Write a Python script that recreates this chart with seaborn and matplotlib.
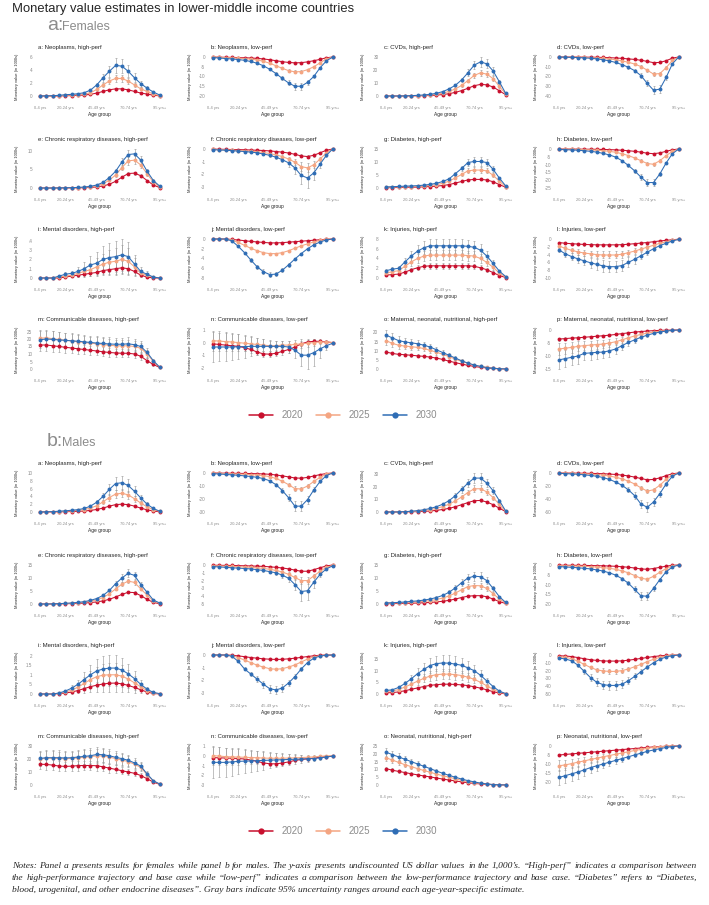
import matplotlib
matplotlib.use("Agg")
import matplotlib.pyplot as plt
from matplotlib.lines import Line2D
import pandas as pd
import seaborn as sns

# age groups 0-4 ... 95+ (20 groups), labelled every 5th
AGE_IDX = list(range(20))
AGE_TICKS = [0, 4, 9, 14, 19]
AGE_LABELS = ["0-4 yrs", "20-24 yrs", "45-49 yrs", "70-74 yrs", "95 yrs+"]
YEARS = ["2020", "2025", "2030"]
COLORS = ["#C8102E", "#F4A582", "#2F6DB5"]

F_TITLES = ["a: Neoplasms, high-perf", "b: Neoplasms, low-perf", "c: CVDs, high-perf", "d: CVDs, low-perf",
            "e: Chronic respiratory diseases, high-perf", "f: Chronic respiratory diseases, low-perf",
            "g: Diabetes, high-perf", "h: Diabetes, low-perf",
            "i: Mental disorders, high-perf", "j: Mental disorders, low-perf",
            "k: Injuries, high-perf", "l: Injuries, low-perf",
            "m: Communicable diseases, high-perf", "n: Communicable diseases, low-perf",
            "o: Maternal, neonatal, nutritional, high-perf", "p: Maternal, neonatal, nutritional, low-perf"]
M_TITLES = F_TITLES[:14] + ["o: Neonatal, nutritional, high-perf", "p: Neonatal, nutritional, low-perf"]

F_YTICKS = [[0, 2, 4, 6], [-20, -15, -10, -5, 0], [0, 10, 20, 30], [-40, -30, -20, -10, 0],
            [0, 5, 10], [-3, -2, -1, 0], [0, 5, 10, 15], [-25, -20, -15, -10, -5, 0],
            [0, .1, .2, .3, .4], [-8, -6, -4, -2, 0], [0, 2, 4, 6, 8], [-10, -8, -6, -4, -2, 0],
            [0, 5, 10, 15, 20, 25], [-2, -1, 0, 1], [0, 5, 10, 15, 20], [-15, -10, -5, 0]]
M_YTICKS = [[0, 2, 4, 6, 8, 10], [-30, -20, -10, 0], [0, 10, 20, 30], [-60, -40, -20, 0],
            [0, 5, 10, 15], [-5, -4, -3, -2, -1, 0], [0, 5, 10, 15], [-20, -15, -10, -5, 0],
            [0, .5, 1, 1.5, 2], [-3, -2, -1, 0], [0, 5, 10, 15], [-50, -40, -30, -20, -10, 0],
            [0, 10, 20, 30], [-3, -2, -1, 0, 1], [0, 5, 10, 15, 20, 25], [-20, -15, -10, -5, 0]]

# ---- females ----
F_2020 = [
    [0, 0, 0, 0, 0.05, 0.05, 0.1, 0.15, 0.25, 0.45, 0.7, 0.95, 1.1, 1.1, 0.95, 0.7, 0.45, 0.3, 0.12, 0.02],
    [-0.05, -0.1, -0.15, -0.2, -0.3, -0.4, -0.5, -0.7, -1, -1.4, -1.9, -2.4, -2.8, -3, -2.9, -2.5, -1.9, -1.2, -0.4, 0],
    [0, 0, 0, 0, 0.1, 0.15, 0.25, 0.4, 0.7, 1.1, 1.8, 2.8, 4.2, 6, 8, 9, 8.7, 7, 4, 1],
    [0, 0, -0.05, -0.1, -0.15, -0.2, -0.3, -0.5, -0.7, -1, -1.4, -1.9, -2.5, -3.3, -4.5, -5.8, -5.6, -3.8, -1.2, 0],
    [0, 0, 0, 0.01, 0.02, 0.03, 0.05, 0.08, 0.15, 0.3, 0.55, 1, 1.8, 2.9, 3.9, 4, 3.3, 2, 0.8, 0.1],
    [-0.01, -0.02, -0.03, -0.04, -0.05, -0.06, -0.08, -0.1, -0.12, -0.15, -0.2, -0.25, -0.32, -0.42, -0.55, -0.6, -0.5, -0.3, -0.1, 0],
    [0.1, 0.15, 0.2, 0.25, 0.3, 0.35, 0.45, 0.55, 0.7, 0.95, 1.3, 1.9, 2.5, 3.1, 3.3, 3.3, 3.1, 2.4, 1.3, 0.3],
    [0, -0.05, -0.05, -0.1, -0.12, -0.15, -0.2, -0.3, -0.4, -0.55, -0.8, -1.1, -1.5, -2, -2.7, -3, -2.5, -1.5, -0.5, 0],
    [0, 0, 0, 0, 0.01, 0.02, 0.03, 0.04, 0.05, 0.06, 0.08, 0.09, 0.1, 0.11, 0.1, 0.07, 0.03, 0.01, 0, 0],
    [0, 0, 0, -0.1, -0.2, -0.35, -0.5, -0.6, -0.7, -0.8, -0.8, -0.75, -0.65, -0.55, -0.45, -0.35, -0.25, -0.15, -0.05, 0],
    [0.6, 0.7, 0.8, 1.2, 1.7, 2.1, 2.4, 2.5, 2.5, 2.5, 2.5, 2.5, 2.5, 2.5, 2.4, 2.1, 1.7, 1.1, 0.5, 0.1],
    [-0.9, -1.1, -1.2, -1.3, -1.4, -1.45, -1.5, -1.5, -1.5, -1.5, -1.45, -1.35, -1.2, -1.05, -0.9, -0.7, -0.5, -0.35, -0.2, -0.05],
    [16, 16, 15.5, 15, 14.5, 14, 13.5, 13, 12.5, 12, 11.5, 11, 10.7, 10.5, 10.5, 10, 8.5, 5.5, 3, 1],
    [-0.1, -0.15, -0.2, -0.25, -0.3, -0.4, -0.55, -0.75, -0.9, -0.92, -0.85, -0.7, -0.55, -0.35, -0.1, 0.05, 0.1, 0.1, 0.05, 0],
    [9.3, 8.5, 8, 7.8, 7.5, 7.2, 6.9, 6.5, 6, 5.2, 4.3, 3.5, 2.7, 2, 1.4, 0.9, 0.6, 0.3, 0.1, 0.05],
    [-3.5, -3.3, -3.1, -3, -2.8, -2.6, -2.4, -2.2, -2, -1.7, -1.4, -1.1, -0.8, -0.6, -0.4, -0.25, -0.15, -0.08, -0.03, 0],
]
F_2025 = [
    [0, 0, 0, 0.05, 0.1, 0.15, 0.2, 0.3, 0.5, 1.0, 1.7, 2.3, 2.7, 2.7, 2.3, 1.7, 1.1, 0.7, 0.3, 0.05],
    [-0.1, -0.2, -0.3, -0.4, -0.6, -0.8, -1.1, -1.5, -2.2, -3.2, -4.5, -5.8, -7, -7.6, -7.5, -6.5, -5, -3, -1, 0],
    [0, 0, 0, 0.05, 0.2, 0.3, 0.5, 0.8, 1.4, 2.2, 3.5, 5.5, 8.2, 12, 16, 18, 17, 13.5, 7.5, 1.5],
    [-0.05, -0.1, -0.2, -0.3, -0.5, -0.7, -1, -1.4, -2, -2.8, -4, -5.4, -7.2, -9.8, -13.5, -17.5, -17, -11, -3.5, 0],
    [0, 0, 0, 0.02, 0.04, 0.07, 0.1, 0.18, 0.3, 0.6, 1.1, 2.1, 3.5, 5.5, 7.3, 7.5, 6.2, 3.8, 1.6, 0.3],
    [-0.03, -0.05, -0.07, -0.09, -0.12, -0.15, -0.18, -0.22, -0.28, -0.36, -0.47, -0.6, -0.8, -1.05, -1.4, -1.5, -1.25, -0.8, -0.3, 0],
    [0.3, 0.35, 0.4, 0.5, 0.55, 0.65, 0.8, 1, 1.3, 1.8, 2.6, 3.9, 5.2, 6.6, 6.9, 6.9, 6.6, 4.9, 2.6, 0.5],
    [-0.1, -0.15, -0.2, -0.3, -0.4, -0.55, -0.75, -1.1, -1.5, -2.1, -3, -4.2, -5.7, -7.5, -9.3, -9.8, -7.5, -4.3, -1.5, 0],
    [0, 0, 0, 0.01, 0.02, 0.03, 0.05, 0.07, 0.09, 0.12, 0.15, 0.17, 0.18, 0.2, 0.18, 0.12, 0.05, 0.03, 0.01, 0],
    [0, 0, 0, -0.2, -0.7, -1.3, -1.9, -2.4, -2.8, -3, -3, -2.8, -2.4, -1.9, -1.4, -1, -0.6, -0.3, -0.1, 0],
    [1.0, 1.3, 1.5, 2.4, 3.3, 4.0, 4.5, 4.7, 4.7, 4.7, 4.7, 4.7, 4.7, 4.6, 4.5, 4.0, 3.2, 2.2, 1.0, 0.2],
    [-1.8, -2.4, -2.9, -3.3, -3.6, -3.8, -4.0, -4.1, -4.1, -4.1, -3.9, -3.5, -3.1, -2.6, -2.1, -1.6, -1.1, -0.7, -0.3, -0.1],
    [20.5, 20.8, 20.2, 19.7, 19.2, 18.7, 18.2, 17.7, 17.2, 16.8, 16.3, 15.8, 15.5, 15.4, 15.5, 15, 13.8, 10, 5, 1.1],
    [0.15, 0.12, 0.08, 0.05, 0, -0.05, -0.1, -0.15, -0.2, -0.25, -0.25, -0.2, -0.2, -0.15, -0.1, -0.05, 0, 0.05, 0.05, 0],
    [15.5, 14, 13, 12.5, 12.2, 11.8, 11.2, 10.2, 9.2, 8, 6.8, 5.4, 4.2, 3.1, 2.2, 1.4, 0.9, 0.5, 0.2, 0.05],
    [-7.3, -7, -6.7, -6.3, -6, -5.8, -5.6, -5.4, -5, -4.5, -3.8, -3, -2.3, -1.7, -1.2, -0.8, -0.5, -0.25, -0.1, 0],
]
F_2030 = [
    [0, 0.02, 0.05, 0.1, 0.2, 0.25, 0.35, 0.5, 0.9, 1.7, 2.8, 3.8, 4.7, 4.6, 3.8, 2.8, 1.9, 1.2, 0.6, 0.15],
    [-0.3, -0.5, -0.8, -1.0, -1.3, -1.7, -2.3, -3.2, -4.5, -6.3, -8.5, -11, -13.3, -15, -15, -13, -10, -5.5, -2, 0],
    [0, 0, 0, 0.1, 0.3, 0.5, 0.8, 1.3, 2.1, 3.4, 5.5, 8.3, 12.5, 18, 24, 26.5, 25, 19.5, 11, 2],
    [-0.1, -0.2, -0.4, -0.6, -0.9, -1.3, -1.9, -2.8, -4, -5.6, -7.8, -10.5, -14, -19, -27, -34, -33, -21, -7, 0],
    [0, 0, 0, 0.03, 0.06, 0.1, 0.15, 0.25, 0.45, 0.8, 1.5, 2.8, 4.5, 7, 9, 9.2, 7.5, 4.5, 2, 0.5],
    [-0.05, -0.08, -0.1, -0.13, -0.17, -0.2, -0.25, -0.3, -0.4, -0.5, -0.65, -0.85, -1.1, -1.5, -2.1, -2.3, -1.9, -1.2, -0.5, 0],
    [0.4, 0.5, 0.6, 0.7, 0.8, 0.9, 1.1, 1.4, 1.8, 2.5, 3.5, 5.5, 7.5, 9.8, 10.2, 10.2, 9.8, 7.2, 3.8, 0.8],
    [-0.3, -0.45, -0.6, -0.8, -1.1, -1.5, -2, -2.8, -3.8, -5.2, -7.5, -10.5, -14, -18, -21.5, -21.5, -16, -9, -3, 0],
    [0, 0, 0, 0.02, 0.04, 0.05, 0.07, 0.1, 0.14, 0.16, 0.2, 0.22, 0.23, 0.25, 0.23, 0.15, 0.07, 0.04, 0.01, 0],
    [0, 0, 0, -0.4, -1.5, -2.8, -4.3, -5.7, -6.7, -7.3, -7.2, -6.4, -5.3, -4.1, -3, -2, -1.2, -0.6, -0.2, 0],
    [1.5, 1.8, 2.0, 3.3, 4.5, 5.5, 6.2, 6.6, 6.6, 6.6, 6.6, 6.6, 6.6, 6.5, 6.3, 5.7, 4.5, 3.0, 1.4, 0.3],
    [-2.8, -3.8, -4.5, -5.1, -5.6, -6.1, -6.5, -6.9, -7.1, -7.1, -6.8, -6.0, -5.2, -4.3, -3.4, -2.5, -1.7, -1.1, -0.5, -0.1],
    [19.5, 20, 19.7, 19.4, 19.1, 18.8, 18.5, 18.1, 17.7, 17.3, 17, 16.7, 16.5, 16.5, 16.8, 16.2, 15, 11, 5.5, 1.2],
    [-0.35, -0.35, -0.35, -0.35, -0.33, -0.32, -0.3, -0.3, -0.3, -0.3, -0.3, -0.3, -0.35, -0.6, -1, -1, -0.8, -0.5, -0.25, -0.05],
    [18.5, 17, 15.5, 14.8, 14.3, 13.8, 13, 12, 10.5, 9, 7.5, 6, 4.5, 3.2, 2.2, 1.4, 0.8, 0.4, 0.15, 0.05],
    [-11.5, -11, -10.5, -10, -9, -8.8, -8.6, -8.5, -8, -7.3, -6, -4.8, -3.8, -2.8, -2, -1.3, -0.8, -0.4, -0.15, 0],
]
F_ERR_2020 = [
    [0, 0, 0, 0, 0, 0, 0.02, 0.03, 0.05, 0.08, 0.12, 0.15, 0.18, 0.18, 0.15, 0.12, 0.08, 0.05, 0.02, 0],
    [0, 0, 0, 0, 0, 0.02, 0.03, 0.04, 0.06, 0.08, 0.12, 0.15, 0.18, 0.2, 0.2, 0.17, 0.13, 0.08, 0.03, 0],
    [0, 0, 0, 0, 0.01, 0.02, 0.03, 0.05, 0.08, 0.12, 0.2, 0.3, 0.45, 0.65, 0.9, 1.1, 1.1, 0.9, 0.5, 0.12],
    [0, 0, 0, 0.01, 0.02, 0.03, 0.04, 0.06, 0.08, 0.12, 0.17, 0.23, 0.3, 0.4, 0.55, 0.7, 0.7, 0.45, 0.15, 0],
    [0, 0, 0, 0, 0, 0, 0.01, 0.01, 0.02, 0.04, 0.07, 0.12, 0.2, 0.32, 0.43, 0.44, 0.36, 0.22, 0.09, 0.01],
    [0, 0, 0, 0, 0.01, 0.01, 0.01, 0.02, 0.02, 0.03, 0.04, 0.05, 0.07, 0.09, 0.12, 0.13, 0.11, 0.07, 0.02, 0],
    [0.02, 0.02, 0.03, 0.03, 0.04, 0.05, 0.06, 0.07, 0.09, 0.12, 0.16, 0.23, 0.3, 0.38, 0.4, 0.4, 0.38, 0.3, 0.16, 0.04],
    [0, 0, 0, 0.01, 0.01, 0.02, 0.02, 0.03, 0.05, 0.06, 0.09, 0.12, 0.17, 0.22, 0.3, 0.33, 0.28, 0.17, 0.06, 0],
    [0, 0, 0, 0, 0.01, 0.01, 0.02, 0.03, 0.03, 0.04, 0.05, 0.06, 0.07, 0.07, 0.07, 0.05, 0.02, 0.01, 0, 0],
    [0, 0, 0, 0.01, 0.02, 0.03, 0.04, 0.05, 0.05, 0.06, 0.06, 0.05, 0.05, 0.04, 0.03, 0.03, 0.02, 0.01, 0, 0],
    [0.15, 0.17, 0.2, 0.3, 0.4, 0.5, 0.55, 0.6, 0.6, 0.6, 0.6, 0.6, 0.6, 0.6, 0.57, 0.5, 0.4, 0.27, 0.12, 0.03],
    [0.2, 0.25, 0.27, 0.29, 0.31, 0.32, 0.33, 0.33, 0.33, 0.33, 0.32, 0.3, 0.27, 0.23, 0.2, 0.16, 0.11, 0.08, 0.04, 0.01],
    [4, 4, 3.9, 3.8, 3.7, 3.5, 3.4, 3.3, 3.1, 3, 2.9, 2.8, 2.7, 2.6, 2.6, 2.5, 2.3, 1.6, 0.8, 0.2],
    [0.25, 0.25, 0.25, 0.25, 0.25, 0.25, 0.25, 0.25, 0.25, 0.25, 0.25, 0.25, 0.25, 0.2, 0.2, 0.15, 0.15, 0.1, 0.08, 0.03],
    [1.1, 1, 0.9, 0.85, 0.8, 0.78, 0.75, 0.72, 0.68, 0.62, 0.55, 0.46, 0.38, 0.3, 0.22, 0.15, 0.1, 0.06, 0.03, 0.01],
    [0.6, 0.58, 0.55, 0.53, 0.5, 0.47, 0.44, 0.41, 0.38, 0.33, 0.28, 0.22, 0.17, 0.13, 0.09, 0.06, 0.04, 0.02, 0.01, 0],
]
F_ERR_2025 = [
    [0, 0, 0, 0, 0.02, 0.03, 0.05, 0.07, 0.1, 0.2, 0.35, 0.5, 0.6, 0.6, 0.5, 0.35, 0.25, 0.15, 0.06, 0.01],
    [0, 0, 0, 0.02, 0.03, 0.05, 0.07, 0.1, 0.15, 0.22, 0.32, 0.45, 0.6, 0.7, 0.7, 0.6, 0.45, 0.28, 0.1, 0],
    [0, 0, 0, 0.01, 0.03, 0.04, 0.07, 0.11, 0.18, 0.28, 0.45, 0.7, 1.05, 1.5, 2, 2.3, 2.2, 1.75, 1, 0.2],
    [0, 0.01, 0.02, 0.04, 0.06, 0.09, 0.13, 0.18, 0.25, 0.35, 0.5, 0.68, 0.9, 1.2, 1.6, 2.1, 2, 1.3, 0.45, 0],
    [0, 0, 0, 0, 0.01, 0.01, 0.02, 0.03, 0.05, 0.09, 0.16, 0.3, 0.5, 0.78, 1.02, 1.05, 0.87, 0.53, 0.22, 0.04],
    [0.01, 0.01, 0.02, 0.02, 0.03, 0.03, 0.04, 0.05, 0.06, 0.08, 0.11, 0.14, 0.19, 0.25, 0.33, 0.36, 0.3, 0.19, 0.07, 0],
    [0.04, 0.05, 0.06, 0.07, 0.08, 0.1, 0.12, 0.15, 0.2, 0.27, 0.38, 0.57, 0.76, 0.97, 1.01, 1.01, 0.97, 0.72, 0.38, 0.07],
    [0.01, 0.02, 0.02, 0.03, 0.05, 0.06, 0.08, 0.12, 0.16, 0.23, 0.33, 0.46, 0.63, 0.82, 1.02, 1.08, 0.83, 0.47, 0.17, 0],
    [0, 0, 0, 0.01, 0.01, 0.02, 0.04, 0.05, 0.07, 0.09, 0.11, 0.13, 0.14, 0.15, 0.14, 0.09, 0.04, 0.02, 0.01, 0],
    [0, 0, 0, 0.02, 0.05, 0.09, 0.13, 0.16, 0.18, 0.2, 0.2, 0.18, 0.16, 0.13, 0.1, 0.07, 0.04, 0.02, 0.01, 0],
    [0.25, 0.3, 0.35, 0.55, 0.75, 0.9, 1, 1.05, 1.05, 1.05, 1.05, 1.05, 1.05, 1.02, 1, 0.9, 0.72, 0.5, 0.23, 0.05],
    [0.4, 0.53, 0.64, 0.73, 0.8, 0.85, 0.88, 0.9, 0.9, 0.9, 0.86, 0.77, 0.68, 0.57, 0.46, 0.35, 0.24, 0.15, 0.07, 0.02],
    [5.2, 5.2, 5, 4.9, 4.8, 4.7, 4.6, 4.5, 4.3, 4.2, 4.1, 4, 3.9, 3.9, 3.9, 3.8, 3.5, 2.5, 1.3, 0.3],
    [0.8, 0.8, 0.75, 0.7, 0.65, 0.6, 0.55, 0.5, 0.45, 0.4, 0.38, 0.35, 0.35, 0.35, 0.35, 0.3, 0.25, 0.2, 0.12, 0.05],
    [2.2, 2, 1.85, 1.75, 1.7, 1.65, 1.58, 1.48, 1.35, 1.2, 1.02, 0.85, 0.67, 0.5, 0.37, 0.25, 0.16, 0.1, 0.05, 0.01],
    [2.2, 2.1, 2, 1.9, 1.8, 1.75, 1.7, 1.65, 1.55, 1.4, 1.2, 0.95, 0.75, 0.55, 0.4, 0.27, 0.17, 0.09, 0.04, 0],
]
F_ERR_2030 = [
    [0, 0, 0, 0.02, 0.04, 0.05, 0.07, 0.1, 0.18, 0.35, 0.6, 0.85, 1.1, 1.1, 0.95, 0.7, 0.45, 0.28, 0.13, 0.03],
    [0.05, 0.05, 0.07, 0.08, 0.1, 0.13, 0.17, 0.25, 0.35, 0.5, 0.7, 1, 1.3, 1.7, 1.7, 1.4, 1, 0.5, 0.2, 0],
    [0, 0, 0, 0.02, 0.05, 0.08, 0.12, 0.2, 0.3, 0.5, 0.8, 1.2, 1.8, 2.6, 3.4, 3.8, 3.6, 2.8, 1.6, 0.3],
    [0.02, 0.03, 0.05, 0.07, 0.1, 0.15, 0.22, 0.33, 0.48, 0.68, 0.95, 1.3, 1.8, 2.4, 3.2, 4, 3.9, 2.6, 0.9, 0],
    [0, 0, 0, 0, 0.01, 0.02, 0.03, 0.04, 0.07, 0.12, 0.22, 0.4, 0.65, 1, 1.3, 1.3, 1.1, 0.65, 0.3, 0.07],
    [0.01, 0.02, 0.02, 0.03, 0.04, 0.05, 0.06, 0.07, 0.1, 0.12, 0.16, 0.22, 0.3, 0.45, 0.7, 0.8, 0.6, 0.35, 0.12, 0],
    [0.06, 0.07, 0.09, 0.1, 0.12, 0.14, 0.17, 0.21, 0.27, 0.38, 0.53, 0.84, 1.15, 1.5, 1.6, 1.6, 1.5, 1.1, 0.6, 0.12],
    [0.03, 0.04, 0.06, 0.08, 0.1, 0.14, 0.18, 0.25, 0.35, 0.48, 0.7, 0.98, 1.3, 1.7, 2, 2, 1.5, 0.85, 0.3, 0],
    [0, 0, 0, 0.01, 0.02, 0.03, 0.05, 0.07, 0.1, 0.12, 0.14, 0.16, 0.17, 0.17, 0.16, 0.1, 0.05, 0.03, 0.01, 0],
    [0, 0, 0, 0.04, 0.12, 0.22, 0.32, 0.4, 0.45, 0.48, 0.47, 0.42, 0.36, 0.28, 0.2, 0.14, 0.08, 0.04, 0.02, 0],
    [0.35, 0.4, 0.45, 0.75, 1, 1.2, 1.35, 1.4, 1.4, 1.4, 1.4, 1.4, 1.4, 1.38, 1.33, 1.2, 0.95, 0.65, 0.3, 0.07],
    [0.6, 0.8, 0.95, 1.08, 1.18, 1.28, 1.36, 1.44, 1.48, 1.48, 1.42, 1.26, 1.1, 0.9, 0.72, 0.53, 0.36, 0.23, 0.1, 0.02],
    [5.5, 5.5, 5.3, 5.2, 5.1, 5, 4.9, 4.8, 4.6, 4.5, 4.4, 4.3, 4.2, 4.2, 4.2, 4.1, 3.8, 2.8, 1.4, 0.3],
    [1.2, 1.15, 1.1, 1.05, 1, 0.9, 0.8, 0.7, 0.6, 0.5, 0.45, 0.4, 0.45, 0.6, 0.9, 1.1, 1.1, 0.7, 0.35, 0.1],
    [2.8, 2.6, 2.4, 2.25, 2.15, 2.05, 1.95, 1.8, 1.6, 1.4, 1.2, 0.98, 0.77, 0.57, 0.4, 0.27, 0.17, 0.1, 0.05, 0.01],
    [3.5, 3.3, 3.1, 2.9, 2.7, 2.6, 2.5, 2.4, 2.3, 2.1, 1.8, 1.45, 1.15, 0.85, 0.6, 0.4, 0.25, 0.14, 0.06, 0],
]

# ---- males ----
M_2020 = [
    [0, 0.01, 0.02, 0.05, 0.08, 0.12, 0.17, 0.25, 0.4, 0.65, 1.0, 1.5, 1.9, 2.0, 1.9, 1.5, 1.0, 0.55, 0.25, 0.05],
    [0, -0.1, -0.15, -0.2, -0.3, -0.35, -0.45, -0.55, -0.7, -1, -1.5, -2.2, -3, -3.8, -4, -3.4, -2.3, -1.2, -0.4, 0],
    [0, 0, 0, 0.1, 0.2, 0.3, 0.5, 0.8, 1.3, 2, 2.9, 4.2, 5.8, 7.5, 9, 9.2, 8, 5.8, 3, 0.3],
    [0, -0.1, -0.2, -0.3, -0.4, -0.6, -0.8, -1.1, -1.6, -2.3, -3.2, -4.5, -6.3, -8.5, -10.5, -10, -7.5, -4, -1.2, 0],
    [0, 0, 0.02, 0.05, 0.1, 0.15, 0.22, 0.35, 0.55, 0.8, 1.2, 1.8, 2.7, 3.7, 4.5, 4.4, 3.2, 1.8, 0.6, 0.1],
    [-0.03, -0.04, -0.05, -0.06, -0.08, -0.1, -0.12, -0.15, -0.18, -0.23, -0.3, -0.38, -0.5, -0.65, -0.8, -0.8, -0.6, -0.35, -0.12, 0],
    [0.1, 0.15, 0.2, 0.25, 0.3, 0.38, 0.47, 0.6, 0.8, 1.05, 1.4, 1.9, 2.5, 3, 3.2, 3.2, 2.8, 1.9, 0.9, 0.2],
    [-0.1, -0.12, -0.15, -0.18, -0.22, -0.27, -0.33, -0.41, -0.52, -0.67, -0.88, -1.15, -1.55, -2, -2.2, -1.8, -1.2, -0.6, -0.15, 0],
    [0, 0, 0, 0.02, 0.05, 0.1, 0.18, 0.28, 0.38, 0.46, 0.52, 0.56, 0.57, 0.53, 0.45, 0.34, 0.22, 0.1, 0.03, 0],
    [0, 0, 0, -0.02, -0.07, -0.13, -0.2, -0.25, -0.3, -0.33, -0.35, -0.34, -0.3, -0.25, -0.19, -0.12, -0.06, -0.02, 0, 0],
    [0.5, 0.6, 0.9, 1.4, 2, 2.6, 3.2, 3.7, 4, 4.2, 4.2, 4.1, 3.9, 3.6, 3.1, 2.5, 1.8, 1, 0.4, 0.05],
    [-1, -1.3, -2, -3.3, -4.8, -6, -7, -7.6, -7.8, -7.8, -7.5, -6.7, -5.6, -4.4, -3.2, -2, -1.1, -0.5, -0.15, 0],
    [16, 15.8, 15.3, 14.6, 14.3, 14.5, 14.9, 15, 15, 14.8, 14, 13, 12, 11, 10, 9, 7.3, 4.8, 2.2, 0.5],
    [-0.15, -0.18, -0.2, -0.22, -0.25, -0.3, -0.4, -0.55, -0.7, -0.8, -0.8, -0.72, -0.6, -0.45, -0.35, -0.28, -0.2, -0.12, -0.05, 0],
    [10.5, 9.5, 8.7, 8, 7.2, 6.5, 5.8, 5.2, 4.5, 3.8, 3.2, 2.6, 2, 1.5, 1, 0.7, 0.4, 0.2, 0.1, 0.05],
    [-5, -4.7, -4.4, -4.1, -3.8, -3.5, -3.2, -2.9, -2.6, -2.3, -2, -1.7, -1.4, -1.1, -0.8, -0.5, -0.3, -0.15, -0.05, 0],
]
M_2025 = [
    [0, 0.03, 0.06, 0.12, 0.2, 0.3, 0.4, 0.6, 1, 1.6, 2.6, 3.7, 4.6, 4.8, 4.4, 3.4, 2.3, 1.3, 0.6, 0.15],
    [-0.2, -0.3, -0.4, -0.6, -0.8, -1, -1.2, -1.5, -2, -2.8, -4.2, -6.3, -9, -12, -12.3, -10, -6.5, -3.3, -1, 0],
    [0, 0, 0.1, 0.2, 0.4, 0.7, 1.2, 1.9, 2.9, 4.3, 6.2, 8.8, 12, 15.5, 18.5, 18.5, 16, 11.5, 6, 0.5],
    [-0.2, -0.4, -0.6, -0.9, -1.3, -1.8, -2.4, -3.3, -4.7, -6.6, -9, -12.5, -17, -23, -28, -26, -19, -10, -3, 0],
    [0, 0, 0.04, 0.1, 0.2, 0.3, 0.45, 0.7, 1.1, 1.6, 2.5, 3.9, 5.8, 7.6, 8.8, 8.3, 5.8, 3.4, 1.1, 0.3],
    [-0.1, -0.12, -0.15, -0.18, -0.22, -0.26, -0.3, -0.36, -0.44, -0.55, -0.7, -0.9, -1.2, -1.6, -2.0, -2.0, -1.4, -0.8, -0.3, -0.05],
    [0.3, 0.35, 0.45, 0.55, 0.7, 0.85, 1.05, 1.3, 1.7, 2.3, 3.1, 4.2, 5.5, 6.7, 7.1, 7, 6, 4, 1.9, 0.4],
    [-0.3, -0.4, -0.5, -0.6, -0.7, -0.85, -1.05, -1.3, -1.7, -2.2, -3, -4, -5.4, -6.8, -7.3, -5.8, -3.7, -1.8, -0.5, 0],
    [0, 0, 0, 0.03, 0.1, 0.2, 0.35, 0.55, 0.75, 0.9, 0.98, 1.0, 1.0, 0.93, 0.78, 0.58, 0.37, 0.18, 0.06, 0.01],
    [0, 0, 0, -0.05, -0.2, -0.4, -0.6, -0.8, -0.95, -1.08, -1.12, -1.08, -0.95, -0.78, -0.55, -0.32, -0.15, -0.05, -0.01, 0],
    [1.1, 1.3, 1.9, 3, 4.2, 5.5, 6.7, 7.7, 8.3, 8.5, 8.5, 8.3, 7.9, 7.2, 6.3, 5, 3.5, 2, 0.8, 0.15],
    [-2.5, -3, -4.5, -8, -12, -16, -19, -20.5, -21, -21, -20, -18, -15, -12, -8.5, -5.5, -3, -1.3, -0.4, -0.05],
    [20, 20.6, 20.5, 20.4, 20.2, 20.4, 20.8, 21.3, 21.8, 22.5, 22.3, 21.5, 20.3, 19.2, 18, 16, 13.5, 8, 3, 0.7],
    [0.05, 0, -0.05, -0.08, -0.1, -0.12, -0.15, -0.17, -0.2, -0.22, -0.22, -0.22, -0.2, -0.18, -0.15, -0.12, -0.08, -0.03, 0.03, 0.02],
    [17.5, 16, 14.5, 13, 11.8, 10.5, 9.3, 8.2, 7, 6, 5, 4, 3, 2.2, 1.5, 1, 0.6, 0.3, 0.1, 0.05],
    [-11, -10.5, -9.8, -9, -8.3, -7.5, -6.8, -6, -5.3, -4.6, -3.9, -3.2, -2.5, -1.9, -1.3, -0.8, -0.4, -0.15, -0.05, 0],
]
M_2030 = [
    [0, 0.05, 0.1, 0.2, 0.3, 0.45, 0.6, 0.9, 1.5, 2.5, 4, 5.8, 7.3, 7.5, 6.8, 5.3, 3.6, 2, 0.9, 0.2],
    [-0.5, -0.8, -1.1, -1.4, -1.8, -2.2, -2.7, -3.3, -4.3, -6, -9, -13.5, -19, -25.5, -25.5, -20.5, -13, -6.5, -2, 0],
    [0, 0, 0.1, 0.3, 0.6, 1.1, 1.8, 2.8, 4.2, 6.2, 9, 13, 18, 23, 27, 27, 23, 17, 9, 0.8],
    [-0.5, -1, -1.5, -2, -2.8, -3.8, -5, -7, -10, -14, -19, -26, -35, -48, -53, -45, -32, -17, -5, 0],
    [0, 0, 0.05, 0.15, 0.25, 0.4, 0.6, 0.9, 1.4, 2.1, 3.3, 5.2, 7.8, 10, 11.8, 11, 7.5, 4.5, 1.5, 0.4],
    [-0.2, -0.25, -0.3, -0.35, -0.4, -0.45, -0.5, -0.6, -0.7, -0.85, -1.0, -1.3, -1.7, -2.5, -3.4, -3.3, -2.2, -1.2, -0.5, -0.1],
    [0.4, 0.5, 0.6, 0.8, 1, 1.2, 1.5, 1.9, 2.5, 3.3, 4.5, 6.2, 8.2, 10, 10.7, 10.5, 9, 6, 2.8, 0.6],
    [-0.8, -1, -1.2, -1.4, -1.7, -2, -2.5, -3.1, -4, -5.2, -7, -9.3, -12.5, -15.8, -16, -12, -7.5, -3.5, -1, 0],
    [0, 0, 0, 0.05, 0.15, 0.3, 0.5, 0.75, 1, 1.2, 1.3, 1.35, 1.35, 1.25, 1.05, 0.8, 0.5, 0.25, 0.08, 0.02],
    [0, 0, 0, -0.1, -0.5, -1.1, -1.5, -1.9, -2.3, -2.65, -2.75, -2.6, -2.2, -1.7, -1.1, -0.6, -0.25, -0.08, -0.02, 0],
    [1.5, 1.8, 2.8, 4.5, 6.5, 8.7, 10.5, 12.2, 13, 13.3, 13.2, 12.8, 12.3, 11.2, 10, 8, 5.6, 3.2, 1.2, 0.2],
    [-4, -5, -7.5, -13, -21, -29, -35, -38, -39, -39, -37.5, -33, -27.5, -21.5, -15.5, -10, -5.5, -2.5, -0.8, -0.1],
    [20.5, 21, 21, 21, 20.8, 21, 21.5, 22, 22.5, 23.5, 23.3, 22.5, 21.3, 20.3, 19, 17, 14.5, 8.5, 3.2, 0.8],
    [-0.65, -0.65, -0.65, -0.6, -0.55, -0.52, -0.5, -0.47, -0.45, -0.42, -0.4, -0.37, -0.35, -0.33, -0.3, -0.28, -0.25, -0.18, -0.1, 0],
    [21, 19.5, 18, 16.5, 15, 13.5, 12, 10.5, 9, 7.5, 6.2, 5, 3.8, 2.8, 2, 1.2, 0.7, 0.3, 0.1, 0.05],
    [-17.5, -16.5, -15.5, -14.5, -13.3, -12, -11, -10, -9, -8, -7, -6, -5, -4, -3, -2.2, -1.5, -0.8, -0.3, 0],
]
M_ERR_2020 = [
    [0, 0, 0, 0.01, 0.02, 0.03, 0.04, 0.05, 0.08, 0.12, 0.18, 0.26, 0.33, 0.35, 0.33, 0.26, 0.18, 0.1, 0.05, 0.01],
    [0, 0.01, 0.02, 0.02, 0.03, 0.04, 0.05, 0.06, 0.08, 0.11, 0.17, 0.24, 0.33, 0.42, 0.44, 0.37, 0.25, 0.13, 0.04, 0],
    [0, 0, 0, 0.01, 0.02, 0.03, 0.05, 0.08, 0.13, 0.2, 0.29, 0.42, 0.58, 0.75, 0.9, 0.92, 0.8, 0.58, 0.3, 0.03],
    [0, 0.01, 0.02, 0.03, 0.04, 0.06, 0.08, 0.11, 0.16, 0.23, 0.32, 0.45, 0.63, 0.85, 1.05, 1, 0.75, 0.4, 0.12, 0],
    [0, 0, 0, 0.01, 0.01, 0.02, 0.03, 0.04, 0.06, 0.08, 0.12, 0.18, 0.27, 0.37, 0.45, 0.44, 0.32, 0.18, 0.06, 0.01],
    [0, 0, 0.01, 0.01, 0.01, 0.01, 0.02, 0.02, 0.03, 0.03, 0.04, 0.06, 0.07, 0.1, 0.12, 0.12, 0.09, 0.05, 0.02, 0],
    [0.02, 0.02, 0.03, 0.04, 0.04, 0.05, 0.06, 0.08, 0.1, 0.13, 0.17, 0.23, 0.3, 0.36, 0.38, 0.38, 0.34, 0.23, 0.11, 0.02],
    [0.01, 0.01, 0.02, 0.02, 0.02, 0.03, 0.03, 0.04, 0.05, 0.07, 0.09, 0.12, 0.16, 0.2, 0.22, 0.18, 0.12, 0.06, 0.02, 0],
    [0, 0, 0, 0.02, 0.04, 0.08, 0.14, 0.22, 0.3, 0.37, 0.42, 0.45, 0.46, 0.43, 0.36, 0.27, 0.18, 0.08, 0.02, 0],
    [0, 0, 0, 0, 0.01, 0.02, 0.03, 0.03, 0.04, 0.04, 0.04, 0.04, 0.04, 0.03, 0.03, 0.02, 0.01, 0, 0, 0],
    [0.1, 0.12, 0.18, 0.28, 0.4, 0.52, 0.64, 0.74, 0.8, 0.84, 0.84, 0.82, 0.78, 0.72, 0.62, 0.5, 0.36, 0.2, 0.08, 0.01],
    [0.15, 0.2, 0.3, 0.5, 0.7, 0.9, 1, 1.1, 1.1, 1.1, 1.1, 1, 0.85, 0.65, 0.48, 0.3, 0.17, 0.08, 0.02, 0],
    [4, 4, 3.9, 3.8, 3.7, 3.7, 3.8, 3.8, 3.8, 3.8, 3.6, 3.4, 3.1, 2.8, 2.6, 2.3, 1.9, 1.3, 0.6, 0.15],
    [0.2, 0.2, 0.2, 0.2, 0.2, 0.2, 0.2, 0.2, 0.2, 0.2, 0.2, 0.2, 0.2, 0.18, 0.15, 0.12, 0.1, 0.08, 0.05, 0.02],
    [1.3, 1.15, 1.05, 0.95, 0.88, 0.8, 0.72, 0.65, 0.57, 0.5, 0.42, 0.35, 0.28, 0.21, 0.15, 0.1, 0.06, 0.03, 0.01, 0],
    [0.8, 0.75, 0.7, 0.66, 0.61, 0.56, 0.51, 0.46, 0.42, 0.37, 0.32, 0.27, 0.22, 0.18, 0.13, 0.08, 0.05, 0.02, 0.01, 0],
]
M_ERR_2025 = [
    [0, 0.01, 0.02, 0.03, 0.05, 0.07, 0.1, 0.14, 0.22, 0.35, 0.55, 0.8, 1, 1.05, 0.97, 0.75, 0.5, 0.3, 0.13, 0.03],
    [0.03, 0.05, 0.06, 0.09, 0.12, 0.15, 0.18, 0.23, 0.3, 0.42, 0.63, 0.95, 1.35, 1.8, 1.85, 1.5, 1, 0.5, 0.15, 0],
    [0, 0, 0.01, 0.03, 0.06, 0.1, 0.17, 0.27, 0.41, 0.6, 0.87, 1.23, 1.7, 2.2, 2.6, 2.6, 2.25, 1.6, 0.85, 0.07],
    [0.03, 0.05, 0.08, 0.11, 0.16, 0.22, 0.29, 0.4, 0.56, 0.79, 1.08, 1.5, 2, 2.75, 3.35, 3.1, 2.3, 1.2, 0.36, 0],
    [0, 0, 0, 0.01, 0.02, 0.03, 0.05, 0.07, 0.11, 0.16, 0.25, 0.39, 0.58, 0.76, 0.88, 0.83, 0.58, 0.34, 0.11, 0.03],
    [0.02, 0.02, 0.03, 0.03, 0.04, 0.05, 0.06, 0.07, 0.09, 0.11, 0.14, 0.18, 0.24, 0.32, 0.4, 0.4, 0.28, 0.16, 0.06, 0.01],
    [0.04, 0.05, 0.06, 0.08, 0.1, 0.12, 0.15, 0.19, 0.26, 0.34, 0.47, 0.63, 0.83, 1, 1.07, 1.05, 0.9, 0.6, 0.29, 0.06],
    [0.03, 0.04, 0.05, 0.06, 0.07, 0.09, 0.11, 0.13, 0.17, 0.22, 0.3, 0.4, 0.54, 0.68, 0.73, 0.58, 0.37, 0.18, 0.05, 0],
    [0, 0, 0, 0.02, 0.06, 0.12, 0.2, 0.32, 0.44, 0.53, 0.58, 0.6, 0.6, 0.56, 0.47, 0.35, 0.22, 0.11, 0.04, 0.01],
    [0, 0, 0, 0.01, 0.02, 0.04, 0.06, 0.08, 0.09, 0.1, 0.1, 0.1, 0.09, 0.07, 0.05, 0.03, 0.02, 0.01, 0, 0],
    [0.3, 0.35, 0.5, 0.8, 1.1, 1.45, 1.75, 2, 2.2, 2.25, 2.25, 2.2, 2.1, 1.9, 1.65, 1.3, 0.92, 0.53, 0.21, 0.04],
    [0.4, 0.5, 0.75, 1.3, 1.9, 2.5, 2.95, 3.2, 3.25, 3.25, 3.1, 2.8, 2.3, 1.85, 1.3, 0.85, 0.45, 0.2, 0.06, 0.01],
    [5.5, 5.5, 5.4, 5.3, 5.2, 5.2, 5.3, 5.3, 5.3, 5.3, 5.2, 5, 4.7, 4.4, 4.1, 3.6, 3.1, 2, 0.8, 0.2],
    [1.0, 0.95, 0.9, 0.85, 0.8, 0.75, 0.7, 0.65, 0.6, 0.55, 0.5, 0.45, 0.4, 0.35, 0.3, 0.25, 0.2, 0.15, 0.1, 0.05],
    [2.2, 2, 1.8, 1.6, 1.45, 1.3, 1.15, 1, 0.87, 0.75, 0.62, 0.5, 0.38, 0.28, 0.19, 0.12, 0.07, 0.04, 0.01, 0],
    [3, 2.85, 2.7, 2.5, 2.3, 2.1, 1.9, 1.7, 1.5, 1.3, 1.1, 0.9, 0.7, 0.55, 0.38, 0.23, 0.12, 0.05, 0.02, 0],
]
M_ERR_2030 = [
    [0, 0.02, 0.03, 0.05, 0.08, 0.11, 0.15, 0.22, 0.37, 0.6, 0.95, 1.35, 1.7, 1.75, 1.6, 1.25, 0.85, 0.47, 0.21, 0.05],
    [0.08, 0.12, 0.17, 0.21, 0.27, 0.33, 0.4, 0.5, 0.65, 0.9, 1.35, 2, 2.8, 3.7, 3.7, 3, 1.9, 1, 0.3, 0],
    [0, 0, 0.02, 0.05, 0.09, 0.17, 0.27, 0.42, 0.63, 0.93, 1.35, 1.95, 2.7, 3.45, 4.05, 4.05, 3.45, 2.55, 1.35, 0.12],
    [0.07, 0.14, 0.21, 0.28, 0.39, 0.53, 0.7, 0.98, 1.4, 1.96, 2.66, 3.6, 4.9, 6.7, 7.4, 6.3, 4.5, 2.4, 0.7, 0],
    [0, 0, 0.01, 0.02, 0.04, 0.06, 0.09, 0.13, 0.2, 0.3, 0.45, 0.7, 1.05, 1.35, 1.6, 1.5, 1.05, 0.62, 0.2, 0.05],
    [0.05, 0.06, 0.07, 0.08, 0.1, 0.11, 0.12, 0.15, 0.17, 0.21, 0.25, 0.33, 0.45, 0.7, 1.2, 1.2, 0.7, 0.35, 0.12, 0.02],
    [0.07, 0.08, 0.1, 0.13, 0.16, 0.19, 0.24, 0.3, 0.4, 0.53, 0.72, 0.99, 1.3, 1.6, 1.7, 1.7, 1.45, 0.96, 0.45, 0.1],
    [0.1, 0.12, 0.15, 0.17, 0.2, 0.24, 0.3, 0.37, 0.48, 0.62, 0.84, 1.1, 1.5, 1.9, 1.9, 1.45, 0.9, 0.42, 0.12, 0],
    [0, 0, 0, 0.03, 0.08, 0.15, 0.25, 0.38, 0.5, 0.6, 0.66, 0.68, 0.68, 0.63, 0.53, 0.4, 0.25, 0.13, 0.04, 0.01],
    [0, 0, 0, 0.02, 0.06, 0.12, 0.17, 0.22, 0.27, 0.31, 0.32, 0.3, 0.26, 0.2, 0.13, 0.07, 0.03, 0.01, 0, 0],
    [0.4, 0.5, 0.75, 1.2, 1.7, 2.25, 2.7, 3.1, 3.3, 3.4, 3.4, 3.3, 3.2, 2.9, 2.6, 2.1, 1.45, 0.85, 0.32, 0.05],
    [0.6, 0.75, 1.1, 2, 3.1, 4.2, 4.9, 5.3, 5.5, 5.5, 5.3, 4.7, 3.9, 3.1, 2.2, 1.4, 0.8, 0.35, 0.12, 0.02],
    [5.8, 5.8, 5.7, 5.6, 5.5, 5.5, 5.6, 5.6, 5.6, 5.6, 5.5, 5.3, 5, 4.7, 4.3, 3.8, 3.3, 2.1, 0.8, 0.2],
    [1.6, 1.55, 1.5, 1.45, 1.35, 1.25, 1.15, 1.05, 0.95, 0.85, 0.75, 0.65, 0.55, 0.48, 0.4, 0.34, 0.28, 0.2, 0.12, 0.04],
    [2.6, 2.4, 2.2, 2, 1.8, 1.6, 1.45, 1.28, 1.1, 0.92, 0.76, 0.61, 0.47, 0.35, 0.25, 0.15, 0.09, 0.04, 0.01, 0],
    [4.2, 4, 3.8, 3.6, 3.35, 3.05, 2.75, 2.5, 2.25, 2, 1.75, 1.5, 1.25, 1, 0.75, 0.55, 0.38, 0.2, 0.08, 0],
]

NOTES = [
    "Notes: Panel a presents results for females while panel b for males. The y-axis presents undiscounted US dollar values in the 1,000\u2019s. \u201cHigh-perf\u201d indicates a comparison between",
    "the high-performance trajectory and base case while \u201clow-perf\u201d indicates a comparison between the low-performance trajectory and base case. \u201cDiabetes\u201d refers to \u201cDiabetes,",
    "blood, urogenital, and other endocrine diseases\u201d. Gray bars indicate 95% uncertainty ranges around each age-year-specific estimate.",
]

sns.set_style("white")
plt.rcParams["font.family"] = ["Liberation Sans", "DejaVu Sans"]
plt.rcParams["axes.unicode_minus"] = False

W, H = 709, 905
STEP = 6.3          # pixels per age group
fig = plt.figure(figsize=(W / 100, H / 100), dpi=100)


def stata_fmt(v):
    if abs(v - round(v)) < 1e-9:
        return str(int(round(v)))
    s = "%g" % v
    if abs(v) < 1:
        s = s.replace("0.", ".")
    return s


def draw_panel(x0, ty, title, ticks, series, errors):
    left = x0 - 0.5 * STEP
    ax = fig.add_axes([left / W, 1 - (ty + 55) / H, 20 * STEP / W, 49 / H])
    rows = []
    for yr, vals in zip(YEARS, series):
        for i, v in zip(AGE_IDX, vals):
            rows.append((i, v, yr))
    df = pd.DataFrame(rows, columns=["age", "value", "year"])
    for vals, errs in zip(series, errors):
        ax.errorbar(AGE_IDX, vals, yerr=errs, fmt="none", ecolor="#9c9c9c",
                    elinewidth=0.45, capsize=1.0, capthick=0.45, zorder=1)
    sns.lineplot(data=df, x="age", y="value", hue="year", hue_order=YEARS,
                 palette=COLORS, marker="o", markersize=2.8, markeredgewidth=0,
                 linewidth=0.75, errorbar=None, legend=False, ax=ax, zorder=2)
    lo = min(min(ticks), min(v - e for s, es in zip(series, errors) for v, e in zip(s, es)))
    hi = max(max(ticks), max(v + e for s, es in zip(series, errors) for v, e in zip(s, es)))
    span = hi - lo
    ax.set_ylim(lo - span * 6 / 39, hi + span * 4 / 39)
    ax.set_xlim(-0.5, 19.5)
    ax.set_yticks(ticks)
    ax.set_yticklabels([stata_fmt(t) for t in ticks])
    ax.set_xticks(AGE_TICKS)
    ax.set_xticklabels(AGE_LABELS)
    ax.tick_params(axis="both", length=2, width=0.4, color="#b0b0b0",
                   labelcolor="#8c8c8c", labelsize=2.9, pad=1.2)
    ax.tick_params(axis="y", labelsize=3.3)
    for sp in ax.spines.values():
        sp.set_visible(False)
    ax.grid(False)
    ax.set_xlabel("Age group", fontsize=3.5, labelpad=1.2)
    ax.set_ylabel("")
    fig.text((x0 - 23) / W, 1 - (ty + 30) / H, "Monetary value (in 1000s)",
             rotation=90, fontsize=2.9, ha="center", va="center")
    fig.text((x0 - 2) / W, 1 - ty / H, title, fontsize=4.3, ha="left", va="center")


def draw_section(y_off, titles, yticks, s20, s25, s30, e20, e25, e30):
    row_y = [47, 139, 229, 320]
    for k in range(16):
        r, c = divmod(k, 4)
        x0 = 40 + 173 * c
        draw_panel(x0, row_y[r] + y_off, titles[k], yticks[k],
                   [s20[k], s25[k], s30[k]], [e20[k], e25[k], e30[k]])


def draw_legend(yc):
    handles = [Line2D([0], [0], color=c, marker="o", markersize=4.5,
                      markeredgewidth=0, linewidth=1.1) for c in COLORS]
    fig.legend(handles, YEARS, loc="center", bbox_to_anchor=(343 / W, 1 - yc / H),
               ncol=3, frameon=False, fontsize=7, labelcolor="#8c8c8c",
               handlelength=2.5, handletextpad=0.9, columnspacing=1.3)


def justified(line, yc, x_left, x_right, **kw):
    # place words one by one so the line fills the full width
    renderer = fig.canvas.get_renderer()
    words = line.split(" ")
    texts = [fig.text(0, 1 - yc / H, w, ha="left", va="center", **kw) for w in words]
    widths = [t.get_window_extent(renderer).width for t in texts]
    gap = (x_right - x_left - sum(widths)) / (len(words) - 1)
    x = x_left
    for t, w in zip(texts, widths):
        t.set_x(x / W)
        x += w + gap


fig.text(12 / W, 1 - 9 / H, "Monetary value estimates in lower-middle income countries",
         fontsize=9.4, ha="left", va="center")

for y_off, big, word in [(0, "a:", "Females"), (416, "b:", "Males")]:
    fig.text(47 / W, 1 - (30 + y_off) / H, big, fontsize=14, color="#8c8c8c",
             ha="left", va="baseline")
    fig.text(62 / W, 1 - (30 + y_off) / H, word, fontsize=9, color="#8c8c8c",
             ha="left", va="baseline")

draw_section(0, F_TITLES, F_YTICKS, F_2020, F_2025, F_2030, F_ERR_2020, F_ERR_2025, F_ERR_2030)
draw_legend(415)
draw_section(416, M_TITLES, M_YTICKS, M_2020, M_2025, M_2030, M_ERR_2020, M_ERR_2025, M_ERR_2030)
draw_legend(831)

note_kw = dict(fontsize=6.8, style="italic", family=["Liberation Serif", "DejaVu Serif"])
for i, line in enumerate(NOTES):
    yc = 866 + 12 * i
    if i < 2:
        justified(line, yc, 12, 697, **note_kw)
    else:
        fig.text(12 / W, 1 - yc / H, line, ha="left", va="center", **note_kw)

fig.savefig("out.png", dpi=100)
